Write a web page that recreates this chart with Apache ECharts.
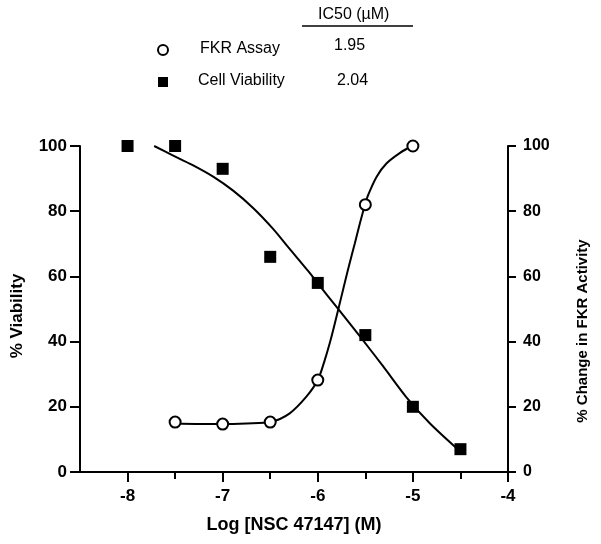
<!DOCTYPE html>
<html>
<head>
<meta charset="utf-8">
<script src="https://cdn.jsdelivr.net/npm/echarts@6/dist/echarts.min.js"></script>
<style>
  html, body { margin: 0; padding: 0; background: #fff; }
  #chart { width: 601px; height: 544px; }
</style>
</head>
<body>
<div id="chart"></div>
<script>
// measured points
var viabDose = [-8, -7.5, -7, -6.5, -6, -5.5, -5, -4.5];
var viability = [100, 100, 93, 66, 58, 42, 20, 7];
var fkrDose = [-7.5, -7, -6.5, -6, -5.5, -5];
var fkrActivity = [15.3, 14.7, 15.3, 28.2, 82, 100];

// fitted curves
var viabCurveX = [-7.72, -7.53, -7.32, -7.10, -6.89, -6.68, -6.47, -6.30, -6.10, -5.90, -5.79, -5.54, -5.31, -5.07, -4.82, -4.54, -4.5];
var viabCurveY = [100, 97.2, 94.2, 90.6, 86.3, 81.0, 74.6, 68.6, 61.6, 54.2, 50.2, 41.0, 32.3, 23.0, 14.9, 7.3, 6.4];
var fkrCurveX = [-7.51, -7.02, -6.75, -6.49, -6.295, -6.12, -6.0, -5.926, -5.856, -5.786, -5.715, -5.663, -5.61, -5.557, -5.504, -5.47, -5.381, -5.276, -5.135, -5.012];
var fkrCurveY = [14.9, 14.7, 14.9, 15.4, 18.0, 23.1, 28.2, 34.4, 41.5, 49.7, 58.2, 64.3, 70.2, 76.3, 81.9, 85.0, 90.6, 94.7, 97.9, 100];

var xMajor = [-8, -7, -6, -5, -4];
var xMinor = [-7.5, -6.5, -5.5, -4.5];

function pairs(xs, ys) {
    return xs.map(function (x, i) { return [x, ys[i]]; });
}

var font = 'Arial, "Liberation Sans", sans-serif';

var myChart = echarts.init(document.getElementById('chart'));
var option = {
    backgroundColor: '#fff',
    animation: false,
    textStyle: { fontFamily: font },
    grid: { left: 80, right: 93, top: 146, bottom: 72 },
    xAxis: [{
        type: 'value',
        min: -8.5,
        max: -4,
        name: 'Log [NSC 47147] (M)',
        nameLocation: 'middle',
        nameGap: 44,
        nameTextStyle: { fontSize: 18, fontWeight: 'bold', color: '#000', fontFamily: font },
        axisLine: { lineStyle: { color: '#000', width: 2 } },
        axisTick: { customValues: xMajor, length: 10, lineStyle: { color: '#000', width: 2 } },
        axisLabel: { customValues: xMajor, margin: 16, fontSize: 17, fontWeight: 'bold', color: '#000', fontFamily: font },
        splitLine: { show: false }
    }, {
        type: 'value',
        min: -8.5,
        max: -4,
        position: 'bottom',
        axisLine: { show: false },
        axisTick: { customValues: xMinor, length: 7, lineStyle: { color: '#000', width: 2 } },
        axisLabel: { show: false },
        splitLine: { show: false }
    }],
    yAxis: [{
        type: 'value',
        position: 'left',
        min: 0,
        max: 100,
        interval: 20,
        name: '% Viability',
        nameLocation: 'middle',
        nameRotate: 90,
        nameGap: 54,
        nameTextStyle: { fontSize: 17, fontWeight: 'bold', color: '#000', fontFamily: font, padding: [0, 14, 0, 0] },
        axisLine: { show: true, lineStyle: { color: '#000', width: 2 } },
        axisTick: { show: true, length: 10, lineStyle: { color: '#000', width: 2 } },
        axisLabel: { margin: 13, fontSize: 17, fontWeight: 'bold', color: '#000', fontFamily: font },
        splitLine: { show: false }
    }, {
        type: 'value',
        position: 'right',
        min: 0,
        max: 100,
        interval: 20,
        name: '% Change in FKR Activity',
        nameLocation: 'middle',
        nameRotate: 90,
        nameGap: 67,
        nameTextStyle: { fontSize: 15, fontWeight: 'bold', color: '#000', fontFamily: font, padding: [0, 44, 0, 0] },
        axisLine: { show: true, lineStyle: { color: '#000', width: 2 } },
        axisTick: { show: true, length: 8, lineStyle: { color: '#000', width: 2 } },
        axisLabel: { margin: 15, fontSize: 16, fontWeight: 'bold', color: '#000', fontFamily: font },
        splitLine: { show: false }
    }],
    graphic: [
        { type: 'text', left: 318, top: 7, style: { text: 'IC50 (µM)', fontSize: 16, fill: '#000', fontFamily: font } },
        { type: 'line', shape: { x1: 302, y1: 26, x2: 413, y2: 26 }, style: { stroke: '#000', lineWidth: 1.5 } },
        { type: 'circle', shape: { cx: 163, cy: 50, r: 5 }, style: { fill: '#fff', stroke: '#000', lineWidth: 2 } },
        { type: 'text', left: 200, top: 41, style: { text: 'FKR Assay', fontSize: 16, fill: '#000', fontFamily: font } },
        { type: 'text', left: 334, top: 38, style: { text: '1.95', fontSize: 16, fill: '#000', fontFamily: font } },
        { type: 'rect', shape: { x: 158, y: 77, width: 10, height: 10 }, style: { fill: '#000' } },
        { type: 'text', left: 198, top: 73, style: { text: 'Cell Viability', fontSize: 16, fill: '#000', fontFamily: font } },
        { type: 'text', left: 337, top: 73, style: { text: '2.04', fontSize: 16, fill: '#000', fontFamily: font } }
    ],
    series: [
        {
            name: 'Cell Viability fit',
            type: 'line',
            xAxisIndex: 0,
            yAxisIndex: 0,
            smooth: 0.3,
            showSymbol: false,
            lineStyle: { color: '#000', width: 2 },
            data: pairs(viabCurveX, viabCurveY)
        },
        {
            name: 'FKR Assay fit',
            type: 'line',
            xAxisIndex: 0,
            yAxisIndex: 1,
            smooth: 0.3,
            showSymbol: false,
            lineStyle: { color: '#000', width: 2 },
            data: pairs(fkrCurveX, fkrCurveY)
        },
        {
            name: 'Cell Viability',
            type: 'scatter',
            xAxisIndex: 0,
            yAxisIndex: 0,
            symbol: 'rect',
            symbolSize: 12,
            itemStyle: { color: '#000', opacity: 1 },
            z: 5,
            data: pairs(viabDose, viability)
        },
        {
            name: 'FKR Assay',
            type: 'scatter',
            xAxisIndex: 0,
            yAxisIndex: 1,
            symbol: 'circle',
            symbolSize: 11,
            itemStyle: { color: '#fff', borderColor: '#000', borderWidth: 2, opacity: 1 },
            z: 5,
            data: pairs(fkrDose, fkrActivity)
        }
    ]
};
myChart.setOption(option);
</script>
</body>
</html>
